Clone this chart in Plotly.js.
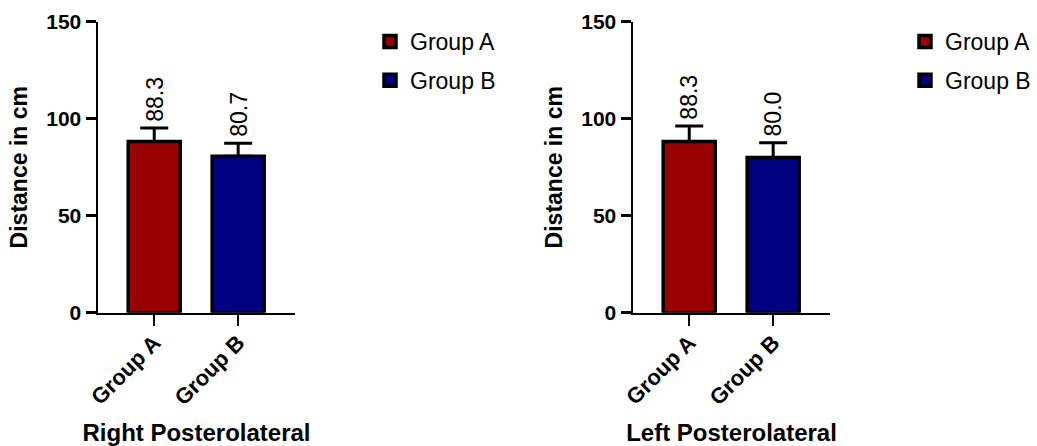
<!DOCTYPE html>
<html>
<head>
<meta charset="utf-8">
<script src="https://cdn.plot.ly/plotly-3.0.1.min.js"></script>
<style>html,body{margin:0;padding:0;background:#fff;}#chart{width:1037px;height:446px;}</style>
</head>
<body>
<div id="chart"></div>
<script>
// ---- data ----
const categories = ['Group A', 'Group B'];
const panelTitles = ['Right Posterolateral', 'Left Posterolateral'];
const rightMeans = [88.3, 80.7];
const rightErrors = [6.9, 6.7];
const leftMeans = [88.3, 80.0];
const leftErrors = [8.0, 7.6];
const yTickVals = [0, 50, 100, 150];
const yTitle = 'Distance in cm';

const colors = ['#990000', '#000080'];
const FONT = 'Arial, "Liberation Sans", Helvetica, sans-serif';

const panels = [
  {means: rightMeans, errs: rightErrors, xa: 'x', ya: 'y', legend: 'legend'},
  {means: leftMeans, errs: leftErrors, xa: 'x2', ya: 'y2', legend: 'legend2'}
];

const traces = [];
const annotations = [];
panels.forEach((p, pi) => {
  categories.forEach((c, ci) => {
    traces.push({
      type: 'bar',
      name: c,
      legendgroup: p.legend + '_' + ci,
      x: [c],
      y: [p.means[ci]],
      xaxis: p.xa,
      yaxis: p.ya,
      legend: p.legend,
      width: 0.62,
      marker: {color: colors[ci], line: {color: '#000', width: 3.5}},
      error_y: {type: 'data', symmetric: false, array: [p.errs[ci]], arrayminus: [0],
                color: '#000', thickness: 3, width: 14},
      hoverinfo: 'skip'
    });
    annotations.push({
      xref: p.xa, yref: p.ya,
      x: c, y: p.means[ci] + p.errs[ci],
      text: p.means[ci].toFixed(1),
      textangle: -90,
      showarrow: false,
      xanchor: 'center', yanchor: 'bottom',
      yshift: 4,
      font: {family: FONT, size: 23, color: '#000'}
    });
  });
});

function xAxis(domain, anchor, title) {
  return {
    domain: domain, anchor: anchor,
    type: 'category',
    range: [-0.67, 1.677],
    showline: true, linecolor: '#000', linewidth: 2.5,
    ticks: 'outside', ticklen: 11, tickwidth: 2.5, tickcolor: '#000',
    tickangle: -45,
    ticklabelstandoff: -5,
    tickfont: {family: FONT, size: 22, color: '#000', weight: 'bold'},
    showgrid: false, zeroline: false,
    automargin: false,
    title: {text: title, standoff: 20, font: {family: FONT, size: 24, color: '#000', weight: 'bold'}}
  };
}
function yAxis(anchor) {
  return {
    domain: [0.2989, 0.9513], anchor: anchor,
    range: [0, 150],
    tickvals: yTickVals,
    showline: true, linecolor: '#000', linewidth: 2.5,
    ticks: 'outside', ticklen: 10, tickwidth: 2.5, tickcolor: '#000',
    tickfont: {family: FONT, size: 21, color: '#000', weight: 'bold'},
    showgrid: false, zeroline: false,
    automargin: false,
    title: {text: yTitle, standoff: 12, font: {family: FONT, size: 23, color: '#000', weight: 'bold'}}
  };
}

const legendStyle = (x) => ({
  x: x, y: 1 - 20/446, xref: 'paper', yref: 'paper',
  xanchor: 'left', yanchor: 'top',
  font: {family: FONT, size: 23, color: '#000'},
  bgcolor: 'rgba(0,0,0,0)',
  traceorder: 'grouped',
  tracegroupgap: 6
});

const layout = {
  width: 1037, height: 446,
  margin: {l: 0, r: 0, t: 0, b: 0},
  paper_bgcolor: '#fff', plot_bgcolor: '#fff',
  barmode: 'overlay',
  showlegend: true,
  xaxis: xAxis([98/1037, 295/1037], 'y', panelTitles[0]),
  yaxis: yAxis('x'),
  xaxis2: xAxis([633/1037, 830/1037], 'y2', panelTitles[1]),
  yaxis2: yAxis('x2'),
  legend: legendStyle(370/1037),
  legend2: legendStyle(905/1037),
  annotations: annotations
};

Plotly.newPlot('chart', traces, layout, {displayModeBar: false, staticPlot: true});
</script>
</body>
</html>
